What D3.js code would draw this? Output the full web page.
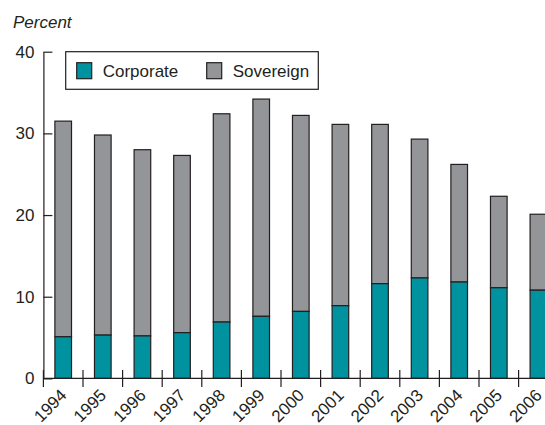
<!DOCTYPE html>
<html>
<head>
<meta charset="utf-8">
<script src="https://cdn.jsdelivr.net/npm/d3@7"></script>
<style>
body { margin: 0; background: #fff; }
svg { display: block; font-family: "Liberation Sans", Arial, Helvetica, sans-serif; }
</style>
</head>
<body>
<script>
var corp_color = '#00929e';
var sov_color = '#939598';
var line_color = '#231f20';

var years = ['1994','1995','1996','1997','1998','1999','2000','2001','2002','2003','2004','2005','2006'];
var corporate = [5.1, 5.3, 5.2, 5.6, 6.9, 7.6, 8.2, 8.9, 11.6, 12.3, 11.8, 11.1, 10.8];
var total = [31.5, 29.8, 28.0, 27.3, 32.4, 34.2, 32.2, 31.1, 31.1, 29.3, 26.2, 22.3, 20.1];
var y_ticks = [0, 10, 20, 30, 40];
var legend_labels = ['Corporate', 'Sovereign'];

width = 545;
height = 425;
font_size = 17;

svg = d3.select("body").append("svg")
	.attr("width", width)
	.attr("height", height);

var x0 = 43.4;
var step = 39.6;
var x = d3.scaleBand()
	.domain(years)
	.range([x0, x0 + step * years.length])
	.paddingInner(0.58)
	.paddingOuter(0.29);

var y = d3.scaleLinear()
	.domain([0, 40])
	.range([378.4, 51.7]);

var rows = years.map(function(d, i) {
	return {year: d, corp: corporate[i], total: total[i]};
});

// sovereign part (top of the stack)
svg.selectAll(".sov")
	.data(rows)
	.enter()
	.append("rect")
	.attr("class", "sov")
	.attr("x", function(d) { return x(d.year) })
	.attr("width", x.bandwidth())
	.attr("y", function(d) { return y(d.total) })
	.attr("height", function(d) { return y(d.corp) - y(d.total) })
	.style("fill", sov_color)
	.style("stroke", line_color)
	.style("stroke-width", 1.2);

svg.selectAll(".corp")
	.data(rows)
	.enter()
	.append("rect")
	.attr("class", "corp")
	.attr("x", function(d) { return x(d.year) })
	.attr("width", x.bandwidth())
	.attr("y", function(d) { return y(d.corp) })
	.attr("height", function(d) { return y(0) - y(d.corp) })
	.style("fill", corp_color)
	.style("stroke", line_color)
	.style("stroke-width", 1.2);

// y axis, ticks pointing inward
var y_axis = svg.append("g")
	.attr("transform", "translate(" + x0 + ",0)")
	.call(d3.axisLeft(y).tickValues(y_ticks).tickSize(-9).tickSizeOuter(0).tickPadding(9));
y_axis.selectAll("line").style("stroke", line_color).style("stroke-width", 1.2);
y_axis.select(".domain").style("stroke", line_color).style("stroke-width", 1.2);
y_axis.selectAll("text")
	.style("font-size", font_size + "px")
	.style("font-family", "Liberation Sans, Arial, sans-serif")
	.style("fill", line_color);

// x axis line
svg.append("line")
	.attr("x1", x0)
	.attr("x2", width)
	.attr("y1", y(0))
	.attr("y2", y(0))
	.style("stroke", line_color)
	.style("stroke-width", 1.2);

// x ticks between the bars
var gap = (x.step() - x.bandwidth()) / 2;
var tick_pos = years.map(function(d) { return x(d) - gap });
svg.selectAll(".xtick")
	.data(tick_pos)
	.enter()
	.append("line")
	.attr("class", "xtick")
	.attr("x1", function(d) { return d })
	.attr("x2", function(d) { return d })
	.attr("y1", y(0) - 8.5)
	.attr("y2", y(0) + 8.5)
	.style("stroke", line_color)
	.style("stroke-width", 1.2);

svg.selectAll(".xlabel")
	.data(years)
	.enter()
	.append("text")
	.attr("class", "xlabel")
	.attr("text-anchor", "end")
	.attr("transform", function(d) {
		return "translate(" + (x(d) + x.bandwidth() / 2 + 4.5) + "," + (y(0) + 18) + ") rotate(-45)";
	})
	.style("font-size", font_size + "px")
	.style("fill", line_color)
	.text(function(d) { return d });

// axis title
svg.append("text")
	.attr("x", 13)
	.attr("y", 28)
	.style("font-size", font_size + "px")
	.style("font-style", "italic")
	.style("fill", line_color)
	.text("Percent");

// legend
var legend = svg.append("g");
legend.append("rect")
	.attr("x", 65.7)
	.attr("y", 51.7)
	.attr("width", 252.6)
	.attr("height", 37.6)
	.style("fill", "#fff")
	.style("stroke", line_color)
	.style("stroke-width", 1.2);

var legend_x = [76.7, 206.7];
var legend_colors = [corp_color, sov_color];
legend.selectAll(".swatch")
	.data(legend_labels)
	.enter()
	.append("rect")
	.attr("class", "swatch")
	.attr("x", function(d, i) { return legend_x[i] })
	.attr("y", 62.7)
	.attr("width", 15)
	.attr("height", 16)
	.style("fill", function(d, i) { return legend_colors[i] })
	.style("stroke", line_color)
	.style("stroke-width", 1.2);

legend.selectAll(".ltext")
	.data(legend_labels)
	.enter()
	.append("text")
	.attr("class", "ltext")
	.attr("x", function(d, i) { return legend_x[i] + 26 })
	.attr("y", 77)
	.style("font-size", font_size + "px")
	.style("fill", line_color)
	.text(function(d) { return d });
</script>
</body>
</html>
